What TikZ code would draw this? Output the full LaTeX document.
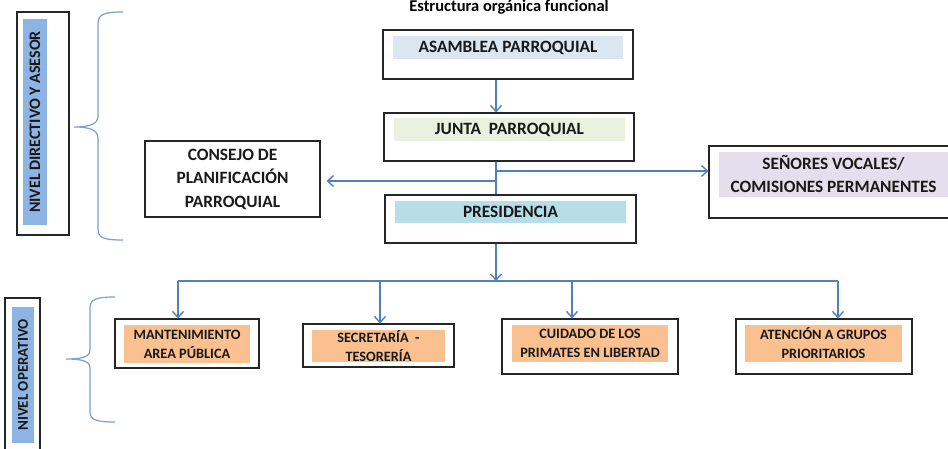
\documentclass[tikz,border=0pt]{standalone}
\usepackage{fontspec}
\setmainfont{Carlito}
\usetikzlibrary{arrows.meta}
\definecolor{linea}{HTML}{4F81BD}
\definecolor{llavecol}{HTML}{7B9FD0}
\definecolor{lado}{HTML}{8DB4E2}
\definecolor{asamcol}{HTML}{DCE6F1}
\definecolor{juntacol}{HTML}{EBF1DE}
\definecolor{prescol}{HTML}{B7DEE8}
\definecolor{sencol}{HTML}{E4DFEC}
\definecolor{opcol}{HTML}{FAC090}

\begin{document}
\begin{tikzpicture}[x=1pt,y=-1pt]
		\tikzstyle{caja} = [draw=black!85, line width=1.1pt, fill=white, inner sep=0pt]
		\tikzstyle{banda} = [inner sep=0pt, align=center, text=black!90, font=\bfseries\fontsize{17.3}{20}\selectfont]
		\tikzstyle{chica} = [banda, font=\bfseries\fontsize{14.3}{19}\selectfont]
		\tikzstyle{enlace} = [draw=linea, line width=1.4pt, -{Straight Barb[length=6pt,width=11pt]}]
		\tikzstyle{tramo} = [draw=linea, line width=1.4pt]
		\tikzstyle{llave} = [draw=llavecol, line width=1.2pt]
		\useasboundingbox (0,0) rectangle (948,448);
	% Titulo
		\node[anchor=base, font=\bfseries\fontsize{16.5}{18}\selectfont] (titulo) at (509,11) {Estructura orgánica funcional};
	% Niveles
		\node[caja, minimum width=52, minimum height=223] (nivdir) at (43,123.5) {};
		\node[banda, fill=lado, rotate=90, minimum width=206, minimum height=24, font=\bfseries\fontsize{16}{18}\selectfont] (nivdirtxt) at (35,122) {NIVEL DIRECTIVO Y ASESOR};
		\node[caja, minimum width=35, minimum height=157] (nivop) at (22.5,376.5) {};
		\node[banda, fill=lado, rotate=90, minimum width=136, minimum height=22, font=\bfseries\fontsize{15}{16}\selectfont] (nivoptxt) at (23,375) {NIVEL OPERATIVO};
		\draw[llave] (123,12) .. controls (104,12) and (98,14) .. (98,24) -- (98,116)
			.. controls (98,124) and (90,127) .. (74,127)
			.. controls (90,127) and (98,130) .. (98,138) -- (98,229)
			.. controls (98,238) and (104,240) .. (123,240);
		\draw[llave] (115,297) .. controls (97,297) and (90,299) .. (90,308) -- (90,350)
			.. controls (90,357) and (82,359) .. (66,359)
			.. controls (82,359) and (90,361) .. (90,368) -- (90,412)
			.. controls (90,420) and (97,422) .. (115,422);
	% Cajas superiores
		\node[caja, minimum width=250, minimum height=49] (asam) at (508,54.5) {};
		\node[banda, fill=asamcol, minimum width=230, minimum height=23] (asamtxt) at (508,47.5) {ASAMBLEA PARROQUIAL};
		\node[caja, minimum width=250, minimum height=48] (junta) at (509,137) {};
		\node[banda, fill=juntacol, minimum width=231, minimum height=23] (juntatxt) at (509.5,129.5) {JUNTA \ PARROQUIAL};
		\node[caja, minimum width=251, minimum height=48] (pres) at (510.5,219) {};
		\node[banda, fill=prescol, minimum width=231, minimum height=22] (prestxt) at (510.5,212) {PRESIDENCIA};
		\node[caja, minimum width=175, minimum height=76, banda, font=\bfseries\fontsize{17.3}{23.5}\selectfont] (cons) at (232.5,179) {CONSEJO DE\\PLANIFICACIÓN\\PARROQUIAL};
		\node[caja, minimum width=243, minimum height=72] (sen) at (830.5,182) {};
		\node[banda, fill=sencol, minimum width=229, minimum height=45, font=\bfseries\fontsize{17.3}{23}\selectfont] (sentxt) at (833.5,174.5) {SEÑORES VOCALES/\\COMISIONES PERMANENTES};
	% Cajas operativas
		\node[caja, minimum width=144, minimum height=49] (mant) at (187,343.5) {};
		\node[chica, fill=opcol, minimum width=126, minimum height=38] (manttxt) at (187,344) {MANTENIMIENTO\\AREA PÚBLICA};
		\node[caja, minimum width=151, minimum height=43] (secr) at (378.5,345.5) {};
		\node[chica, fill=opcol, minimum width=133, minimum height=32] (secrtxt) at (378.5,346) {SECRETARÍA \ -\\TESORERÍA};
		\node[caja, minimum width=176, minimum height=55] (cuid) at (590,346.5) {};
		\node[chica, fill=opcol, minimum width=156, minimum height=37] (cuidtxt) at (590,343.5) {CUIDADO DE LOS\\PRIMATES EN LIBERTAD};
		\node[caja, minimum width=176, minimum height=55] (aten) at (824,346.5) {};
		\node[chica, fill=opcol, minimum width=157, minimum height=37] (atentxt) at (823.5,343.5) {ATENCIÓN A GRUPOS\\PRIORITARIOS};
	% Conectores
		\coordinate (eje) at (496,171);
		\coordinate (izq) at (496,181);
		\coordinate (bus) at (496,281);
		\coordinate (b1) at (178,281);
		\coordinate (b2) at (380,281);
		\coordinate (b3) at (572,281);
		\coordinate (b4) at (838,281);
		\draw[enlace] (eje |- asam.south) -- (eje |- junta.north);
		\draw[tramo] (eje |- junta.south) -- (eje |- pres.north);
		\draw[enlace] (eje) -- (eje -| sen.west);
		\draw[enlace, shorten >=6pt] (izq) -- (izq -| cons.east);
		\draw[enlace] (eje |- pres.south) -- (bus);
		\draw[tramo] (b1) -- (b4);
		\foreach \b/\c in {b1/mant, b2/secr, b3/cuid, b4/aten}
			\draw[enlace] (\b) -- (\b |- \c.north);
	\end{tikzpicture}
\end{document}
